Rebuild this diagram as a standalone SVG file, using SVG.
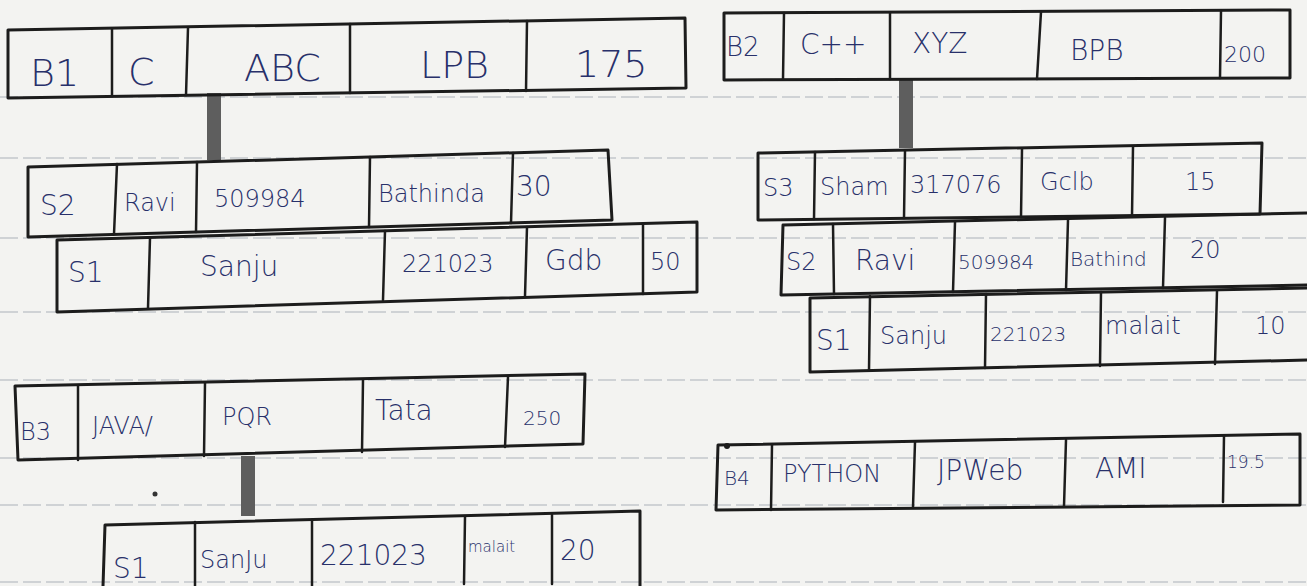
<svg xmlns="http://www.w3.org/2000/svg" width="1307" height="586" viewBox="0 0 1307 586">
<style>
.bg{fill:#f3f3f1}
.rule{stroke:#c4c7cc;stroke-width:1.5;fill:none;stroke-dasharray:18 5}
.box{fill:none;stroke:#1c1c1c;stroke-width:3;stroke-linejoin:round;stroke-linecap:round}
.div{stroke:#1c1c1c;stroke-width:2.5;stroke-linecap:round}
.bar{stroke:#5e5e5e;stroke-width:14;stroke-linecap:butt}
text{font-family:"DejaVu Sans","Liberation Sans",sans-serif;fill:#28306a;font-weight:300}
.t1{font-size:38px}
.t2{font-size:28px}
.t3{font-size:24px}
.t4{font-size:20px}
</style>
<rect class="bg" x="0" y="0" width="1307" height="586"/>
<g id="ruling">
<path class="rule" d="M0 97 H1307"/>
<path class="rule" d="M0 158 H1307"/>
<path class="rule" d="M0 238 H1307"/>
<path class="rule" d="M0 312 H1307"/>
<path class="rule" d="M0 380 H1307"/>
<path class="rule" d="M0 458 H1307"/>
<path class="rule" d="M0 505 H1307"/>
<path class="rule" d="M0 582 H1307"/>
</g>
<g id="connectors">
<line class="bar" x1="214" y1="93" x2="214" y2="160"/>
<line class="bar" x1="906" y1="80" x2="906" y2="148"/>
<line class="bar" x1="248" y1="456" x2="248" y2="516"/>
</g>
<g id="B1">
<path class="box" d="M8 30 L685 18 L686 88 L8 98 Z"/>
<line class="div" x1="112" y1="29" x2="112" y2="96"/>
<line class="div" x1="188" y1="28" x2="186" y2="95"/>
<line class="div" x1="350" y1="24" x2="350" y2="93"/>
<line class="div" x1="527" y1="21" x2="526" y2="91"/>
<text class="t1" x="30" y="86">B1</text>
<text class="t1" x="128" y="85">C</text>
<text class="t1" x="244" y="81">ABC</text>
<text class="t1" x="420" y="78">LPB</text>
<text class="t1" x="575" y="77">175</text>
</g>
<g id="B2">
<path class="box" d="M724 13 L1290 10 L1290 78 L724 80 Z"/>
<line class="div" x1="784" y1="13" x2="783" y2="79"/>
<line class="div" x1="890" y1="13" x2="890" y2="79"/>
<line class="div" x1="1041" y1="12" x2="1037" y2="79"/>
<line class="div" x1="1221" y1="11" x2="1220" y2="78"/>
<text class="t3" x="726" y="56" style="font-size:26px">B2</text>
<text class="t2" x="800" y="54">C++</text>
<text class="t2" x="912" y="53">XYZ</text>
<text class="t2" x="1070" y="60">BPB</text>
<text class="t4" x="1224" y="62" style="font-size:22px">200</text>
</g>
<g id="S2-left">
<path class="box" d="M28 167 L608 150 L612 220 L28 237 Z"/>
<line class="div" x1="117" y1="164" x2="114" y2="234"/>
<line class="div" x1="197" y1="162" x2="196" y2="232"/>
<line class="div" x1="370" y1="157" x2="369" y2="227"/>
<line class="div" x1="513" y1="153" x2="511" y2="223"/>
<text class="t2" x="40" y="215">S2</text>
<text class="t3" x="124" y="211">Ravi</text>
<text class="t3" x="214" y="207">509984</text>
<text class="t3" x="378" y="202">Bathinda</text>
<text class="t2" x="516" y="196">30</text>
</g>
<g id="S1-left">
<path class="box" d="M57 240 L697 222 L697 292 L57 312 Z"/>
<line class="div" x1="150" y1="238" x2="148" y2="308"/>
<line class="div" x1="385" y1="231" x2="383" y2="300"/>
<line class="div" x1="527" y1="227" x2="525" y2="296"/>
<line class="div" x1="643" y1="224" x2="643" y2="294"/>
<text class="t2" x="68" y="282">S1</text>
<text class="t2" x="200" y="276">Sanju</text>
<text class="t3" x="402" y="272">221023</text>
<text class="t2" x="545" y="270">Gdb</text>
<text class="t3" x="650" y="270">50</text>
</g>
<g id="S3-right">
<path class="box" d="M758 153 L1262 143 L1260 214 L758 220 Z"/>
<line class="div" x1="815" y1="152" x2="814" y2="219"/>
<line class="div" x1="905" y1="151" x2="904" y2="218"/>
<line class="div" x1="1022" y1="149" x2="1021" y2="217"/>
<line class="div" x1="1133" y1="147" x2="1132" y2="216"/>
<text class="t3" x="763" y="196">S3</text>
<text class="t3" x="820" y="195">Sham</text>
<text class="t3" x="910" y="193">317076</text>
<text class="t3" x="1040" y="190">Gclb</text>
<text class="t3" x="1185" y="190">15</text>
</g>
<g id="S2-right">
<path class="box" d="M783 225 L1307 213 M783 225 L781 295 L1307 285"/>
<line class="div" x1="833" y1="224" x2="834" y2="294"/>
<line class="div" x1="955" y1="222" x2="953" y2="292"/>
<line class="div" x1="1068" y1="220" x2="1066" y2="290"/>
<line class="div" x1="1165" y1="218" x2="1163" y2="288"/>
<text class="t3" x="786" y="270">S2</text>
<text class="t2" x="855" y="270">Ravi</text>
<text class="t4" x="958" y="269">509984</text>
<text class="t4" x="1070" y="266">Bathind</text>
<text class="t3" x="1190" y="258">20</text>
</g>
<g id="S1-right">
<path class="box" d="M1307 288 L810 298 L810 372 L1307 360"/>
<line class="div" x1="870" y1="296" x2="869" y2="370"/>
<line class="div" x1="986" y1="294" x2="985" y2="368"/>
<line class="div" x1="1101" y1="292" x2="1100" y2="366"/>
<line class="div" x1="1217" y1="291" x2="1215" y2="364"/>
<text class="t2" x="816" y="350">S1</text>
<text class="t3" x="880" y="344">Sanju</text>
<text class="t4" x="990" y="341">221023</text>
<text class="t3" x="1105" y="334">malait</text>
<text class="t3" x="1255" y="334">10</text>
</g>
<g id="B3">
<path class="box" d="M15 386 L585 374 L583 444 L18 460 Z"/>
<line class="div" x1="78" y1="386" x2="78" y2="460"/>
<line class="div" x1="205" y1="383" x2="204" y2="456"/>
<line class="div" x1="363" y1="380" x2="362" y2="452"/>
<line class="div" x1="508" y1="377" x2="505" y2="447"/>
<text class="t3" x="20" y="440">B3</text>
<text class="t3" x="92" y="434">JAVA/</text>
<text class="t3" x="222" y="425">PQR</text>
<text class="t2" x="375" y="420">Tata</text>
<text class="t4" x="523" y="425">250</text>
<circle cx="155" cy="494" r="2.5" fill="#333"/>
</g>
<g id="S1-bottom">
<path class="box" d="M103 586 L105 525 L640 511 L640 586"/>
<line class="div" x1="195" y1="522" x2="195" y2="586"/>
<line class="div" x1="312" y1="520" x2="312" y2="586"/>
<line class="div" x1="465" y1="517" x2="464" y2="584"/>
<line class="div" x1="552" y1="515" x2="552" y2="584"/>
<text class="t2" x="113" y="578">S1</text>
<text class="t3" x="200" y="568">SanJu</text>
<text class="t2" x="320" y="565">221023</text>
<text class="t4" x="468" y="552" style="font-size:15px">malait</text>
<text class="t2" x="560" y="560">20</text>
</g>
<g id="B4">
<path class="box" d="M718 445 L1300 434 L1300 505 L716 510 Z"/>
<line class="div" x1="772" y1="445" x2="771" y2="510"/>
<line class="div" x1="915" y1="442" x2="913" y2="507"/>
<line class="div" x1="1066" y1="440" x2="1064" y2="506"/>
<line class="div" x1="1224" y1="436" x2="1223" y2="502"/>
<circle cx="727" cy="446" r="3" fill="#1c1c1c"/>
<text class="t4" x="724" y="485">B4</text>
<text class="t3" x="783" y="482">PYTHON</text>
<text class="t2" x="937" y="480">JPWeb</text>
<text class="t2" x="1095" y="478">AMI</text>
<text class="t4" x="1227" y="468" style="font-size:17px">19.5</text>
</g>
</svg>
